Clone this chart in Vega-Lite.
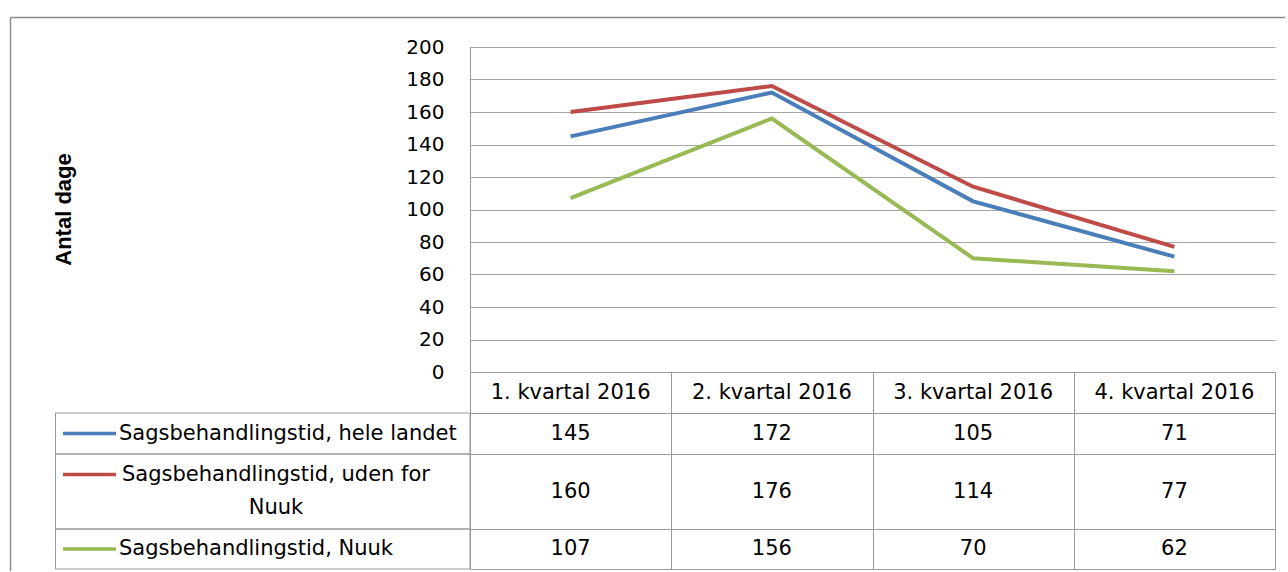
{
  "$schema": "https://vega.github.io/schema/vega-lite/v6.json",
  "background": "white",
  "padding": {"left": 9, "top": 16, "right": 0, "bottom": 0},
  "spacing": 0,
  "bounds": "flush",
  "datasets": {
    "d": [
      {"series": "Sagsbehandlingstid, hele landet", "quarter": "1. kvartal 2016", "q": 1, "value": 145},
      {"series": "Sagsbehandlingstid, hele landet", "quarter": "2. kvartal 2016", "q": 2, "value": 172},
      {"series": "Sagsbehandlingstid, hele landet", "quarter": "3. kvartal 2016", "q": 3, "value": 105},
      {"series": "Sagsbehandlingstid, hele landet", "quarter": "4. kvartal 2016", "q": 4, "value": 71},
      {"series": "Sagsbehandlingstid, uden for Nuuk", "quarter": "1. kvartal 2016", "q": 1, "value": 160},
      {"series": "Sagsbehandlingstid, uden for Nuuk", "quarter": "2. kvartal 2016", "q": 2, "value": 176},
      {"series": "Sagsbehandlingstid, uden for Nuuk", "quarter": "3. kvartal 2016", "q": 3, "value": 114},
      {"series": "Sagsbehandlingstid, uden for Nuuk", "quarter": "4. kvartal 2016", "q": 4, "value": 77},
      {"series": "Sagsbehandlingstid, Nuuk", "quarter": "1. kvartal 2016", "q": 1, "value": 107},
      {"series": "Sagsbehandlingstid, Nuuk", "quarter": "2. kvartal 2016", "q": 2, "value": 156},
      {"series": "Sagsbehandlingstid, Nuuk", "quarter": "3. kvartal 2016", "q": 3, "value": 70},
      {"series": "Sagsbehandlingstid, Nuuk", "quarter": "4. kvartal 2016", "q": 4, "value": 62}
    ]
  },
  "vconcat": [
    {
      "width": 805,
      "height": 325,
      "data": {"name": "d"},
      "view": {"stroke": null},
      "resolve": {"axis": {"x": "independent", "y": "independent"}},
      "layer": [
        {
          "mark": {"type": "line", "strokeWidth": 4},
          "encoding": {
            "x": {"field": "q", "type": "quantitative", "scale": {"domain": [0.5, 4.5], "nice": false, "zero": false}, "axis": null},
            "y": {
              "field": "value", "type": "quantitative",
              "scale": {"domain": [0, 200], "nice": false},
              "axis": {
                "values": [0, 20, 40, 60, 80, 100, 120, 140, 160, 180, 200],
                "labelOverlap": false,
                "labelFlush": false,
                "grid": true, "gridColor": "#a6a6a6", "gridWidth": 1,
                "domain": true, "domainColor": "#999999", "domainWidth": 1,
                "ticks": false, "tickSize": 0,
                "labelPadding": 26, "labelFont": "DejaVu Sans", "labelFontSize": 20, "labelColor": "black",
                "title": "Antal dage", "titleFont": "Liberation Sans", "titleFontWeight": "bold", "titleFontSize": 22,
                "titleColor": "black", "titleX": -407, "titleY": 162, "titleAngle": -90,
                "titleAlign": "center", "titleBaseline": "middle"
              }
            },
            "color": {
              "field": "series", "type": "nominal",
              "scale": {"domain": ["Sagsbehandlingstid, hele landet", "Sagsbehandlingstid, uden for Nuuk", "Sagsbehandlingstid, Nuuk"], "range": ["#4a7ebb", "#be4b48", "#98b954"]},
              "legend": null
            }
          }
        },
        {
          "data": {"values": [{}]},
          "mark": {"type": "rule", "color": "#8c8c8c", "strokeWidth": 1.5},
          "encoding": {
            "x": {"datum": -1.7832, "type": "quantitative", "axis": null},
            "y": {"datum": 218.15, "type": "quantitative", "axis": null},
            "y2": {"datum": -122.46}
          }
        },
        {
          "data": {"values": [{}]},
          "mark": {"type": "rule", "color": "#8c8c8c", "strokeWidth": 1.5},
          "encoding": {
            "x": {"datum": -1.7832, "type": "quantitative", "axis": null},
            "x2": {"datum": 4.5497},
            "y": {"datum": 218.15, "type": "quantitative", "axis": null}
          }
        }
      ]
    },
    {
      "width": 805,
      "height": 41,
      "data": {"name": "d"},
      "transform": [{"filter": "datum.series === 'Sagsbehandlingstid, hele landet'"}],
      "view": {"stroke": "#999999"},
      "mark": {"type": "text", "font": "DejaVu Sans", "fontSize": 21, "color": "black"},
      "encoding": {
        "x": {"field": "q", "type": "quantitative", "scale": {"domain": [0.5, 4.5], "nice": false, "zero": false},
              "axis": {"values": [1.5, 2.5, 3.5], "grid": true, "gridColor": "#999999", "labels": false, "ticks": false, "domain": false, "title": null}},
        "text": {"field": "quarter"}
      }
    },
    {
      "width": 805,
      "height": 41,
      "data": {"name": "d"},
      "transform": [{"filter": "datum.series === 'Sagsbehandlingstid, hele landet'"}],
      "view": {"stroke": "#999999"},
      "layer": [
        {
          "mark": {"type": "text", "font": "DejaVu Sans", "fontSize": 21, "color": "black"},
          "encoding": {
            "x": {"field": "q", "type": "quantitative", "scale": {"domain": [0.5, 4.5], "nice": false, "zero": false},
                  "axis": {"values": [1.5, 2.5, 3.5], "grid": true, "gridColor": "#999999", "labels": false, "ticks": false, "domain": false, "title": null}},
            "text": {"field": "value"}
          }
        },
        {
          "transform": [{"filter": "datum.q === 1"}],
          "mark": {"type": "rect", "filled": false, "color": "#999999", "strokeWidth": 1, "clip": false},
          "encoding": {"x": {"datum": -1.5596, "type": "quantitative"}, "x2": {"datum": 0.5}}
        },
        {
          "transform": [{"filter": "datum.q === 1"}],
          "mark": {"type": "rule", "color": "#4a7ebb", "strokeWidth": 3.5, "clip": false},
          "encoding": {"x": {"datum": -1.5224, "type": "quantitative"}, "x2": {"datum": -1.259}}
        },
        {
          "transform": [{"filter": "datum.q === 1"}],
          "mark": {"type": "text", "align": "left", "font": "DejaVu Sans", "fontSize": 21, "color": "black", "clip": false},
          "encoding": {"x": {"datum": -1.2441, "type": "quantitative"}, "text": {"field": "series"}}
        }
      ]
    },
    {
      "width": 805,
      "height": 75,
      "data": {"name": "d"},
      "transform": [{"filter": "datum.series === 'Sagsbehandlingstid, uden for Nuuk'"}],
      "view": {"stroke": "#999999"},
      "layer": [
        {
          "mark": {"type": "text", "font": "DejaVu Sans", "fontSize": 21, "color": "black"},
          "encoding": {
            "x": {"field": "q", "type": "quantitative", "scale": {"domain": [0.5, 4.5], "nice": false, "zero": false},
                  "axis": {"values": [1.5, 2.5, 3.5], "grid": true, "gridColor": "#999999", "labels": false, "ticks": false, "domain": false, "title": null}},
            "text": {"field": "value"}
          }
        },
        {
          "transform": [{"filter": "datum.q === 1"}],
          "mark": {"type": "rect", "filled": false, "color": "#999999", "strokeWidth": 1, "clip": false},
          "encoding": {"x": {"datum": -1.5596, "type": "quantitative"}, "x2": {"datum": 0.5}}
        },
        {
          "transform": [{"filter": "datum.q === 1"}],
          "mark": {"type": "rule", "color": "#be4b48", "strokeWidth": 3.5, "clip": false, "yOffset": -17},
          "encoding": {"x": {"datum": -1.5224, "type": "quantitative"}, "x2": {"datum": -1.259}}
        },
        {
          "transform": [{"filter": "datum.q === 1"}],
          "mark": {"type": "text", "align": "center", "font": "DejaVu Sans", "fontSize": 21, "color": "black", "lineHeight": 33, "dy": -17, "clip": false},
          "encoding": {"x": {"datum": -0.464, "type": "quantitative"}, "text": {"value": ["Sagsbehandlingstid, uden for", "Nuuk"]}}
        }
      ]
    },
    {
      "width": 805,
      "height": 40,
      "data": {"name": "d"},
      "transform": [{"filter": "datum.series === 'Sagsbehandlingstid, Nuuk'"}],
      "view": {"stroke": "#999999"},
      "layer": [
        {
          "mark": {"type": "text", "font": "DejaVu Sans", "fontSize": 21, "color": "black"},
          "encoding": {
            "x": {"field": "q", "type": "quantitative", "scale": {"domain": [0.5, 4.5], "nice": false, "zero": false},
                  "axis": {"values": [1.5, 2.5, 3.5], "grid": true, "gridColor": "#999999", "labels": false, "ticks": false, "domain": false, "title": null}},
            "text": {"field": "value"}
          }
        },
        {
          "transform": [{"filter": "datum.q === 1"}],
          "mark": {"type": "rect", "filled": false, "color": "#999999", "strokeWidth": 1, "clip": false},
          "encoding": {"x": {"datum": -1.5596, "type": "quantitative"}, "x2": {"datum": 0.5}}
        },
        {
          "transform": [{"filter": "datum.q === 1"}],
          "mark": {"type": "rule", "color": "#98b954", "strokeWidth": 3.5, "clip": false},
          "encoding": {"x": {"datum": -1.5224, "type": "quantitative"}, "x2": {"datum": -1.259}}
        },
        {
          "transform": [{"filter": "datum.q === 1"}],
          "mark": {"type": "text", "align": "left", "font": "DejaVu Sans", "fontSize": 21, "color": "black", "clip": false},
          "encoding": {"x": {"datum": -1.2441, "type": "quantitative"}, "text": {"field": "series"}}
        }
      ]
    }
  ],
  "config": {
    "view": {"stroke": null},
    "axis": {"labelColor": "black"}
  }
}
